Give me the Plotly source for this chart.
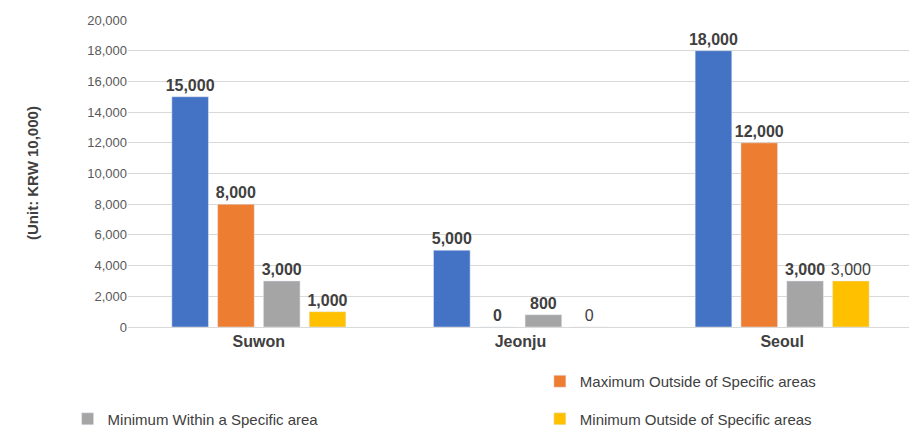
import plotly.graph_objects as go

categories = ["Suwon", "Jeonju", "Seoul"]
series_names = ["Maximum Within a Specific area", "Maximum Outside of Specific areas",
                "Minimum Within a Specific area", "Minimum Outside of Specific areas"]
max_within = [15000, 5000, 18000]
max_outside = [8000, 0, 12000]
min_within = [3000, 800, 3000]
min_outside = [1000, 0, 3000]
labels_bold = [[True, True, True], [True, True, True], [True, True, True], [True, False, False]]
colors = ["#4472C4", "#ED7D31", "#A5A5A5", "#FFC000"]

legend_ids = ["legend", "legend2", "legend3", "legend4"]
legend_pos = [(0.065, 0.155), (0.58, 0.155), (0.065, 0.07), (0.58, 0.07)]

fig = go.Figure()
for name, vals, col, bold, lid in zip(series_names, [max_within, max_outside, min_within, min_outside], colors, labels_bold, legend_ids):
    texts = [(f"<b>{v:,}</b>" if b else f"{v:,}") for v, b in zip(vals, bold)]
    fig.add_bar(x=categories, y=vals, name=name, marker_color=col, text=texts,
                textposition="outside", cliponaxis=False, constraintext="none",
                legend=lid,
                textfont=dict(size=16, color="#404040", family="Liberation Sans, Arial"))

layout_legends = {}
for lid, (lx, ly) in zip(legend_ids, legend_pos):
    layout_legends[lid] = dict(xref="container", yref="container", x=lx, y=ly,
                               xanchor="left", yanchor="middle",
                               font=dict(size=15, color="#404040"),
                               bgcolor="rgba(0,0,0,0)")

fig.update_layout(
    width=917, height=442, barmode="group", bargap=0.3, bargroupgap=0.2,
    plot_bgcolor="white", paper_bgcolor="white",
    margin=dict(l=120, r=12, t=12, b=123, autoexpand=False),
    font=dict(family="Liberation Sans, Arial", color="#595959"),
    yaxis=dict(range=[0, 20000], dtick=2000, tickformat=",", gridcolor="#D9D9D9",
               tickfont=dict(size=13, color="#595959"), zeroline=False),
    xaxis=dict(tickfont=dict(size=16, color="#404040"), showline=True, linecolor="#D9D9D9",
               tickvals=categories, ticktext=[f"<b>{c}</b>" for c in categories]),
    annotations=[dict(text="<b>(Unit: KRW 10,000)</b>", xref="paper", yref="paper",
                      x=-0.135, y=0.5, textangle=-90, showarrow=False,
                      font=dict(size=15, color="#404040"))],
    **layout_legends,
)
fig.write_html("out.html")
